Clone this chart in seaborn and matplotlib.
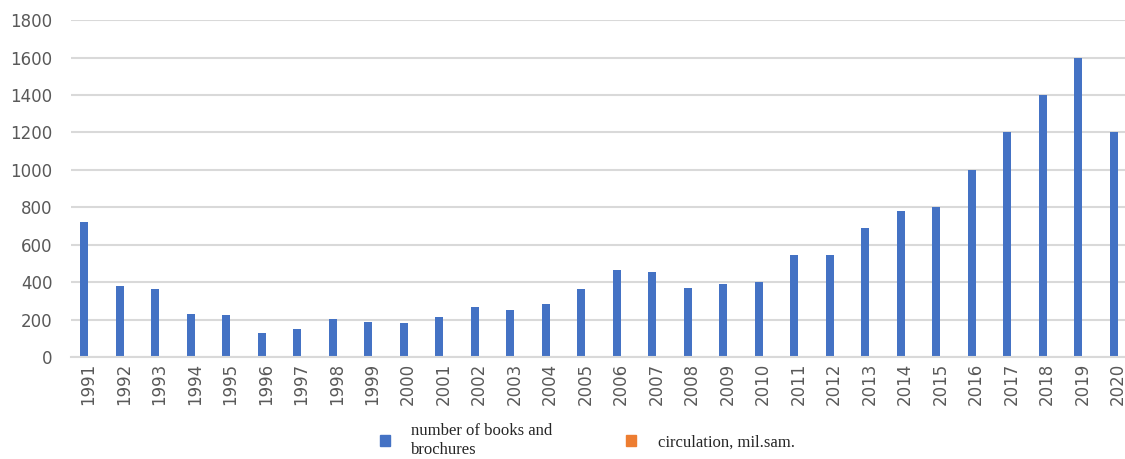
import pandas as pd
import matplotlib
matplotlib.use('Agg')
import matplotlib.pyplot as plt
import seaborn as sns

years = [str(y) for y in range(1991, 2021)]
books = [720, 380, 365, 230, 225, 130, 150, 205, 190, 182,
         213, 270, 250, 282, 365, 465, 455, 370, 390, 400,
         548, 548, 690, 778, 800, 1000, 1200, 1400, 1600, 1200]
circulation = [0] * 30  # too small to show on this scale

series_names = ['number of books and\nbrochures', 'circulation, mil.sam.']
colors = ['#4472C4', '#ED7D31']

df = pd.DataFrame({
    'year': years * 2,
    'value': books + circulation,
    'series': [series_names[0]] * 30 + [series_names[1]] * 30,
})

sns.set_style('white')
plt.rcParams['font.family'] = ['DejaVu Sans']

fig = plt.figure(figsize=(11.25, 4.59), dpi=100)
ax = fig.add_axes([0.0627, 0.222, 0.9467, 0.734])

sns.barplot(data=df, x='year', y='value', hue='series', palette=colors,
            width=0.46, saturation=1, linewidth=0, ax=ax, legend=False)

ax.set_xlim(-0.5, 29.5)
ax.set_ylim(0, 1800)
ax.set_yticks(range(0, 1801, 200))
ax.yaxis.grid(True, color='#d9d9d9', linewidth=1.5)
ax.set_axisbelow(True)
for s in ['top', 'right', 'left']:
    ax.spines[s].set_visible(False)
ax.spines['bottom'].set_color('#d9d9d9')
ax.spines['bottom'].set_linewidth(1.5)
ax.set_xlabel('')
ax.set_ylabel('')
ax.tick_params(axis='both', length=0, labelsize=12, colors='#595959')
ax.tick_params(axis='y', pad=13)
ax.tick_params(axis='x', pad=4)
plt.setp(ax.get_xticklabels(), rotation=90)

handles = [plt.Rectangle((0, 0), 1, 1, color=c) for c in colors]
fig.legend(handles, series_names, loc='center', bbox_to_anchor=(0.522, 0.04),
           ncol=2, frameon=False, handlelength=0.6, handleheight=0.6,
           handletextpad=1.3, columnspacing=4.4, labelspacing=0.2,
           borderaxespad=0, borderpad=0.1,
           prop={'family': 'Liberation Serif', 'size': 12})

fig.savefig('out.png', dpi=100)
